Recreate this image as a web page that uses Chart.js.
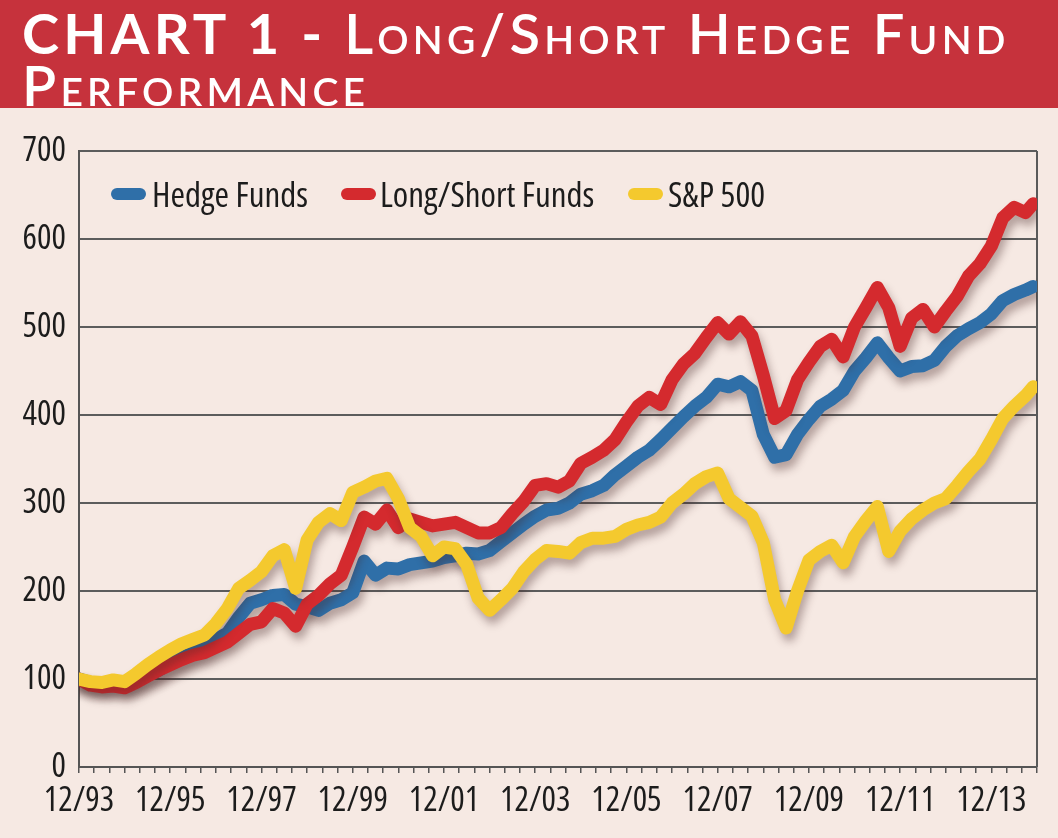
<!DOCTYPE html>
<html>
<head>
<meta charset="utf-8">
<script src="https://cdn.jsdelivr.net/npm/chart.js@4.4.1/dist/chart.umd.min.js"></script>
<style>
  html, body { margin:0; padding:0; background:#f6e9e3; }
  #wrap { position:relative; width:1058px; height:838px; overflow:hidden; background:#f6e9e3; }
  #banner { position:absolute; left:0; top:0; width:1058px; height:108px; background:#c6323c; z-index:2; }
  .tline { position:absolute; left:22px; color:#fff; font-family:Lato, "Open Sans", sans-serif; font-size:56px; line-height:56px; white-space:nowrap; font-weight:700; letter-spacing:4.2px; }
  .sc { font-variant:small-caps; font-weight:600; }
  #c { position:absolute; left:0; top:0; z-index:1; }
  #legend { position:absolute; left:0; top:0; z-index:3; }
  .li { position:absolute; top:177px; font-family:"Open Sans", sans-serif; font-stretch:condensed; font-size:35px; line-height:34px; color:#1c1c1c; white-space:nowrap; }
  .pill { position:absolute; top:188px; width:35px; height:12px; border-radius:6px; }
</style>
</head>
<body>
<div id="wrap">
  <div id="banner">
    <div class="tline" style="top:5px">CHART 1 - <span class="sc">Long/Short Hedge Fund</span></div>
    <div class="tline" style="top:57px"><span class="sc">Performance</span></div>
  </div>
  <canvas id="c" width="1058" height="838"></canvas>
  <div id="legend"></div>
</div>
<script>
// months since 12/93
const months = [0,3,6,9,12,15,18,21,24,27,30,33,36,39,42,45,48,51,54,57,60,63,66,69,72,75,78,81,84,87,90,93,96,99,102,105,108,111,114,117,120,123,126,129,132,135,138,141,144,147,150,153,156,159,162,165,168,171,174,177,180,183,186,189,192,195,198,201,204,207,210,213,216,219,222,225,228,231,234,237,240,243,246,249,251];

const tickLabels = ['12/93','12/95','12/97','12/99','12/01','12/03','12/05','12/07','12/09','12/11','12/13'];

const seriesNames = ['Hedge Funds','Long/Short Funds','S&P 500'];
const seriesColors = ['#2f6fa8','#d42a2e','#f4c92e'];

const hedgeFunds = [100,96,95,96,95,98,104,110,118,124,130,136,145,152,170,186,190,195,196,185,182,178,186,190,198,234,218,226,225,230,232,234,238,240,243,242,246,256,266,276,285,292,294,300,310,314,320,332,342,352,360,372,385,398,410,420,435,432,438,428,378,352,355,378,395,410,418,428,450,465,482,465,450,455,456,462,478,490,498,505,515,530,537,542,546];

const longShort = [100,93,91,92,90,96,103,110,116,122,127,130,136,142,152,162,165,180,175,160,185,195,208,218,250,284,276,292,272,282,278,274,276,278,272,266,266,272,288,302,320,322,318,325,345,352,360,372,392,410,420,412,440,458,470,488,505,492,506,490,445,396,405,440,460,478,486,466,500,522,545,522,478,510,520,500,518,535,558,572,592,624,636,630,640];

const sp500 = [100,97,96,99,97,106,116,125,133,140,145,150,163,180,203,212,222,240,247,203,258,278,288,280,312,318,325,328,305,272,262,240,250,248,230,192,178,190,203,222,236,246,245,243,255,260,260,262,270,275,278,284,300,310,322,330,334,305,295,285,255,190,158,200,235,245,252,232,262,280,296,245,268,282,292,300,305,320,336,350,372,396,410,422,432];

const seriesValues = [hedgeFunds, longShort, sp500];
const drawOrder = [2,1,0];

// HTML legend
const legendPos = [[111,152],[341,380],[628,668]];
const lg = document.getElementById('legend');
seriesNames.forEach((n,i)=>{
  const p = document.createElement('div'); p.className='pill';
  p.style.left = legendPos[i][0]+'px'; p.style.background = seriesColors[i];
  lg.appendChild(p);
  const t = document.createElement('div'); t.className='li';
  t.style.left = legendPos[i][1]+'px'; t.textContent = n;
  lg.appendChild(t);
});

const shadowPlugin = {
  id:'shadow',
  beforeDatasetDraw(chart){ const c=chart.ctx; c.save(); c.shadowColor='rgba(70,40,40,0.38)'; c.shadowBlur=9; c.shadowOffsetX=3; c.shadowOffsetY=7; },
  afterDatasetDraw(chart){ chart.ctx.restore(); }
};
const rightBorder = {
  id:'rightBorder',
  beforeDatasetsDraw(chart){
    const a = chart.chartArea, c = chart.ctx;
    c.save(); c.strokeStyle='#5a5a5a'; c.lineWidth=2;
    c.beginPath(); c.moveTo(a.right, a.top); c.lineTo(a.right, a.bottom); c.stroke();
    c.restore();
  }
};

const axisFont = { family:'"Open Sans", sans-serif', size:34, style:'normal', weight:'400 condensed' };

new Chart(document.getElementById('c'), {
  type:'line',
  data:{
    datasets: seriesNames.map((n,i)=>({
      label:n,
      data: months.map((m,k)=>({x:m, y:seriesValues[i][k]})),
      borderColor: seriesColors[i],
      backgroundColor: seriesColors[i],
      borderWidth: 13,
      pointRadius: 0,
      tension: 0,
      borderCapStyle:'round',
      borderJoinStyle:'round',
      order: drawOrder[i],
      fill:false
    }))
  },
  options:{
    responsive:false,
    animation:false,
    events:[],
    layout:{ padding:{ top:151, right:21, left:0, bottom:0 } },
    plugins:{ legend:{ display:false }, tooltip:{ enabled:false }, title:{ display:false } },
    scales:{
      x:{
        type:'linear', min:0, max:252,
        afterFit(s){ s.height = 71; },
        grid:{ drawOnChartArea:false, drawTicks:true, tickLength:6, color:'#555', lineWidth:1.5 },
        border:{ display:true, color:'#555', width:2 },
        ticks:{
          stepSize:4, autoSkip:false, maxRotation:0, padding:8, color:'#1c1c1c', font:axisFont,
          callback(v){ return (v % 24 === 0 && tickLabels[v/24]) ? tickLabels[v/24] : ''; }
        }
      },
      y:{
        min:0, max:700,
        afterFit(s){ s.width = 79; },
        grid:{ drawTicks:false, color:'#5c5c5c', lineWidth:2 },
        border:{ display:true, color:'#555', width:2 },
        ticks:{ stepSize:100, padding:13, color:'#1c1c1c', font:axisFont }
      }
    }
  },
  plugins:[shadowPlugin, rightBorder]
});
</script>
</body>
</html>
